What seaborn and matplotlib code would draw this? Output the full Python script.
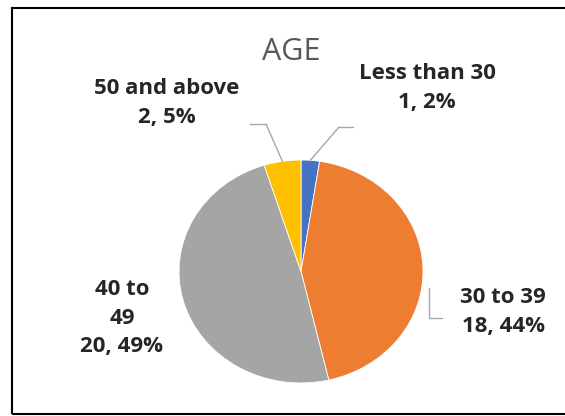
import numpy as np
import matplotlib
matplotlib.use("Agg")
import matplotlib.pyplot as plt
from matplotlib.lines import Line2D
from matplotlib.patches import Rectangle
import seaborn as sns

# ------------------------------
# DATA
# ------------------------------

categories = ["Less than 30", "30 to 39", "40 to 49", "50 and above"]
counts = [1, 18, 20, 2]
label_names = ["Less than 30", "30 to 39", "40 to\n49", "50 and above"]
colors = ["#4472C4", "#ED7D31", "#A5A5A5", "#FFC000"]

# ------------------------------
# FIGURE
# ------------------------------

sns.set_theme(style="white")
plt.rcParams["font.family"] = ["Open Sans", "DejaVu Sans"]

W, H = 565, 416
fig = plt.figure(figsize=(W / 100, H / 100), dpi=100)
fig.patch.set_facecolor("white")


def px(x, y):
    return (x / W, 1 - y / H)


# pie centre ~ (301, 271), rx 122, ry 111
ax = fig.add_axes([(301 - 122) / W, (H - 383) / H, 244 / W, 223 / H])

wedges, _ = ax.pie(
    counts,
    colors=colors,
    startangle=90,
    counterclock=False,
    wedgeprops=dict(linewidth=0.6, edgecolor="white")
)
ax.set_aspect("auto")
ax.set_xlim(-1, 1)
ax.set_ylim(-1, 1)
ax.axis("off")

# ------------------------------
# LABELS
# ------------------------------

total = sum(counts)
pcts = [round(c / total * 100) for c in counts]
texts = [f"{n}\n{c}, {p}%" for n, c, p in zip(label_names, counts, pcts)]

label_pos = {
    0: (427, 88),
    1: (503, 312),
    2: (122, 318),
    3: (167, 103),
}

for i, t in enumerate(texts):
    fig.text(
        *px(*label_pos[i]), t,
        ha="center", va="center",
        fontsize=16, fontweight="bold",
        color="#262626", linespacing=1.45
    )

fig.text(*px(291, 52), "AGE", ha="center", va="center",
         fontsize=22, color="#595959", fontweight="medium")

# ------------------------------
# LEADER LINES
# ------------------------------

lc = "#A6A6A6"


def edge_point(w):
    mid = np.deg2rad((w.theta1 + w.theta2) / 2)
    return (np.cos(mid), np.sin(mid))


# Less than 30
ax.annotate("", xy=edge_point(wedges[0]), xycoords="data",
            xytext=px(339, 127), textcoords="figure fraction",
            arrowprops=dict(arrowstyle="-", color=lc, lw=1,
                            shrinkA=0, shrinkB=0))
fig.add_artist(Line2D([339 / W, 353 / W], [1 - 127 / H, 1 - 127 / H],
                      color=lc, lw=1, transform=fig.transFigure))

# 50 and above
ax.annotate("", xy=edge_point(wedges[3]), xycoords="data",
            xytext=px(266, 124), textcoords="figure fraction",
            arrowprops=dict(arrowstyle="-", color=lc, lw=1,
                            shrinkA=0, shrinkB=0))
fig.add_artist(Line2D([250 / W, 266 / W], [1 - 124 / H, 1 - 124 / H],
                      color=lc, lw=1, transform=fig.transFigure))

# 30 to 39
fig.add_artist(Line2D([429 / W, 429 / W, 442 / W],
                      [1 - 288 / H, 1 - 318 / H, 1 - 318 / H],
                      color=lc, lw=1, transform=fig.transFigure))

# ------------------------------
# BORDER
# ------------------------------

fig.add_artist(Rectangle(px(12, 414), (W + 10) / W, 406 / H,
                         transform=fig.transFigure, fill=False,
                         edgecolor="black", lw=1.5))

fig.savefig("out.png", dpi=100)
